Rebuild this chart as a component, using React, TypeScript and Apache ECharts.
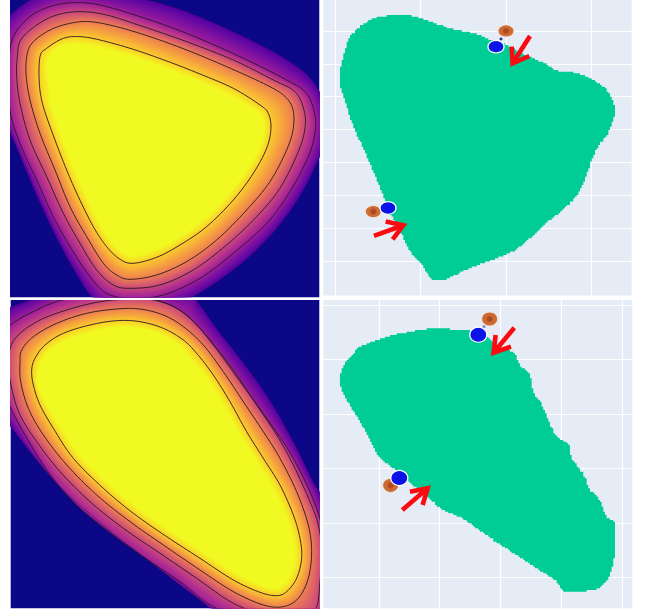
import React, { useEffect, useRef } from "react";
import * as echarts from "echarts";

type P = number[];

// Density panel, top: contours from the outer edge to the yellow core
const topEdge: P[] = [[-40,230],[-30,120],[60,20],[160,-25],[300,-25],[500,15],[700,95],[870,185],[950,260],[985,370],[955,480],[880,620],[770,750],[630,860],[500,925],[390,940],[300,920],[210,790],[120,610],[30,400],[-30,300]];
const topLevel1: P[] = [[26,200],[40,110],[90,50],[150,20],[220,8],[300,15],[420,50],[560,100],[720,170],[860,240],[920,280],[945,345],[945,400],[925,470],[870,575],[800,670],[700,760],[600,835],[490,885],[390,895],[320,880],[270,830],[210,740],[160,650],[110,540],[60,430],[30,330]];
const topLevel2: P[] = [[50,230],[52,170],[62,120],[110,75],[170,45],[240,35],[320,45],[430,80],[560,125],[700,180],[820,240],[885,275],[912,330],[915,385],[895,455],[840,565],[770,650],[680,735],[580,810],[480,855],[390,865],[340,855],[290,810],[240,730],[190,640],[140,530],[90,420],[60,310]];
const topLevel3: P[] = [[78,220],[82,160],[100,125],[150,90],[210,70],[270,65],[350,80],[450,110],[560,150],[680,200],[790,250],[850,285],[878,325],[880,385],[860,450],[810,545],[740,630],[650,720],[560,785],[470,825],[390,838],[350,825],[310,790],[260,710],[210,620],[165,510],[120,400],[90,300]];
const topLevel4: P[] = [[118,250],[120,170],[140,145],[190,115],[240,110],[300,120],[400,148],[500,183],[600,222],[700,265],[780,315],[805,340],[813,385],[800,445],[760,520],[700,600],[620,680],[540,735],[470,772],[400,790],[360,778],[320,740],[280,680],[235,590],[200,510],[165,420],[130,320]];
const topCore: P[] = [[150,270],[140,190],[175,140],[240,132],[300,142],[400,170],[500,205],[595,243],[690,285],[765,330],[785,350],[792,385],[780,440],[740,510],[682,588],[605,665],[525,720],[460,752],[400,768],[372,760],[335,725],[298,668],[255,580],[220,500],[185,410],[150,310]];

// Density panel, bottom
const lowEdge: P[] = [[-20,70],[100,10],[200,-20],[560,-20],[590,15],[650,100],[720,190],[800,300],[870,420],[930,540],[990,680],[1010,1000],[700,970],[580,900],[450,800],[320,700],[170,565],[32,395],[-20,300],[-40,180]];
const lowLevel1: P[] = [[10,115],[120,40],[230,5],[350,-5],[470,15],[560,60],[640,150],[720,260],[800,370],[880,490],[950,640],[975,760],[985,985],[780,985],[640,935],[540,860],[430,785],[320,705],[220,620],[130,510],[32,340],[8,250]];
const lowLevel2: P[] = [[25,210],[32,155],[60,115],[120,75],[200,45],[290,22],[380,12],[460,15],[530,40],[590,90],[650,160],[710,240],[770,330],[830,420],[880,510],[930,620],[955,690],[965,770],[960,860],[945,945],[880,960],[800,960],[700,925],[590,850],[480,775],[370,700],[270,620],[180,530],[110,440],[60,360],[35,280]];
const lowLevel3: P[] = [[62,260],[60,200],[65,165],[100,125],[170,85],[260,55],[350,42],[420,42],[490,60],[550,95],[610,150],[670,230],[730,320],[790,410],[840,490],[890,590],[925,690],[935,770],[925,850],[895,910],[850,935],[790,930],[700,890],[600,825],[490,750],[390,680],[290,600],[200,510],[130,420],[85,340]];
const lowLevel4: P[] = [[100,270],[95,225],[105,190],[135,150],[190,115],[270,90],[350,77],[420,80],[490,100],[550,135],[590,175],[640,240],[690,320],[740,410],[790,490],[840,570],[880,660],[900,730],[905,790],[890,850],[860,890],[830,902],[780,892],[700,855],[600,790],[500,725],[400,655],[310,580],[220,490],[160,400],[120,330]];
const lowCore: P[] = [[115,275],[115,230],[125,200],[150,165],[200,135],[278,110],[352,97],[418,100],[482,118],[536,150],[572,190],[622,252],[672,332],[722,422],[772,502],[820,580],[860,668],[880,735],[885,790],[872,840],[850,870],[828,882],[785,872],[708,836],[610,772],[512,708],[412,638],[324,565],[236,476],[178,390],[135,320]];

const levelColors = ["#5502a4", "#a11f9b", "#cc4a7a", "#ef8150", "#fccf2a", "#f0f921"];

// Region outlines in the scatter panels
const topRegion: P[] = [[240,44],[275,48],[330,65],[400,88],[470,103],[505,118],[560,135],[600,160],[660,185],[715,213],[760,218],[810,235],[850,262],[875,295],[885,325],[883,350],[865,400],[835,440],[812,490],[795,540],[770,590],[730,630],[680,670],[620,725],[580,755],[520,780],[450,805],[380,838],[340,838],[310,800],[280,765],[250,710],[225,665],[200,610],[180,560],[150,490],[120,420],[90,350],[75,300],[62,260],[62,200],[75,150],[90,110],[125,75],[170,52]];
const lowRegion: P[] = [[370,98],[400,105],[450,108],[500,125],[540,160],[580,172],[600,210],[628,240],[640,290],[665,330],[690,390],[715,430],[748,450],[755,490],[790,540],[810,585],[835,610],[860,665],[885,685],[885,770],[875,825],[855,865],[820,885],[735,888],[712,860],[660,825],[600,785],[545,750],[490,712],[430,670],[370,645],[330,610],[280,570],[230,525],[175,480],[150,430],[115,370],[90,330],[65,280],[60,245],[75,205],[100,175],[120,155],[170,135],[220,120],[300,105]];

const topXTicks = [47, 302, 558, 815];
const topYTicks = [93, 192, 290, 388, 488, 586, 685, 783];
const lowXTicks = [177, 358, 542, 725, 907];
const lowYTicks = [30, 193, 358, 521, 684, 847];

const topOrange: P[] = [[558,93],[160,635]];
const topBlue: P[] = [[528,140],[204,624]];
const topDots: P[] = [[543,117]];
const lowOrange: P[] = [[509,72],[212,571]];
const lowBlue: P[] = [[475,119],[238,549]];
const lowDots: P[] = [[492,95]];

// tail, tip, barb, barb
const topArrows: P[][] = [
  [[630,108],[578,190],[575,140],[628,168]],
  [[162,708],[250,676],[197,665],[218,718]],
];
const lowArrows: P[][] = [
  [[583,98],[521,173],[527,120],[573,155]],
  [[247,645],[323,580],[270,590],[308,630]],
];

function smooth(ring: P[], n = 8): P[] {
  const out: P[] = [];
  const L = ring.length;
  for (let i = 0; i < L; i++) {
    const a = ring[(i - 1 + L) % L], b = ring[i], c = ring[(i + 1) % L], d = ring[(i + 2) % L];
    for (let k = 0; k < n; k++) {
      const t = k / n, t2 = t * t, t3 = t2 * t;
      out.push([0, 1].map((j) =>
        0.5 * (2 * b[j] + (c[j] - a[j]) * t + (2 * a[j] - 5 * b[j] + 4 * c[j] - d[j]) * t2 + (3 * b[j] - a[j] - 3 * c[j] + d[j]) * t3)));
    }
  }
  return out;
}

const ANGLES = 240;
function radial(ring: P[], cx: number, cy: number): number[] {
  const pts = smooth(ring, 10)
    .map((p) => [Math.atan2(p[1] - cy, p[0] - cx), Math.hypot(p[0] - cx, p[1] - cy)])
    .sort((a, b) => a[0] - b[0]);
  const res: number[] = [];
  for (let i = 0; i < ANGLES; i++) {
    const th = -Math.PI + (2 * Math.PI * i) / ANGLES;
    let j = pts.findIndex((p) => p[0] >= th);
    if (j < 0) j = 0;
    const b = pts[j], a = pts[(j - 1 + pts.length) % pts.length];
    let span = b[0] - a[0]; if (span <= 0) span += 2 * Math.PI;
    let off = th - a[0]; if (off < 0) off += 2 * Math.PI;
    res.push(a[1] + (b[1] - a[1]) * (off / span));
  }
  return res;
}

function hex(c: string) { return [1, 3, 5].map((i) => parseInt(c.slice(i, i + 2), 16)); }
function mix(a: string, b: string, t: number) {
  const x = hex(a), y = hex(b);
  return `rgb(${x.map((v, i) => Math.round(v + (y[i] - v) * t)).join(",")})`;
}

function densitySeries(idx: number, rings: P[][], cx: number, cy: number) {
  const radii = rings.map((r) => radial(r, cx, cy));
  const lines = rings.slice(0, 5).map((r) => smooth(r));
  return {
    type: "custom", xAxisIndex: idx, yAxisIndex: idx, clip: true, silent: true,
    data: [[0, 0]],
    renderItem: (_: any, api: any) => {
      const children: any[] = [];
      const STEPS = 10;
      for (let b = 0; b < radii.length - 1; b++) {
        for (let s = 0; s < STEPS; s++) {
          const t = s / STEPS;
          const points = radii[b].map((r0, i) => {
            const r = r0 + (radii[b + 1][i] - r0) * t;
            const th = -Math.PI + (2 * Math.PI * i) / ANGLES;
            return api.coord([cx + r * Math.cos(th), cy + r * Math.sin(th)]);
          });
          children.push({ type: "polygon", shape: { points }, style: { fill: mix(levelColors[b], levelColors[b + 1], t), stroke: null } });
        }
      }
      const last = radii[radii.length - 1].map((r, i) => {
        const th = -Math.PI + (2 * Math.PI * i) / ANGLES;
        return api.coord([cx + r * Math.cos(th), cy + r * Math.sin(th)]);
      });
      children.push({ type: "polygon", shape: { points: last }, style: { fill: levelColors[5], stroke: null } });
      lines.forEach((ln, k) => {
        children.push({
          type: "polygon", shape: { points: ln.map((p) => api.coord(p)) },
          style: { fill: "none", stroke: k === 0 ? "rgba(30,10,80,0.45)" : "rgba(40,25,35,0.9)", lineWidth: 1 },
        });
      });
      return { type: "group", children };
    },
  };
}

function stairs(ring: P[], cell = 5): P[] {
  const out: P[] = [];
  smooth(ring, 12).forEach((p) => {
    const x = Math.round(p[0] / cell) * cell, y = Math.round(p[1] / cell) * cell;
    const l = out[out.length - 1];
    if (!l) { out.push([x, y]); return; }
    if (l[0] === x && l[1] === y) return;
    if (l[0] !== x && l[1] !== y) out.push([x, l[1]]);
    out.push([x, y]);
  });
  return out;
}

function regionSeries(idx: number, ring: P[]) {
  const pts = stairs(ring);
  return {
    type: "custom", xAxisIndex: idx, yAxisIndex: idx, silent: true, z: 2,
    data: [[0, 0]],
    renderItem: (_: any, api: any) => ({
      type: "polygon", shape: { points: pts.map((p) => api.coord(p)) },
      style: { fill: "#00cc96", stroke: null },
    }),
  };
}

function arrowSeries(idx: number, arrows: P[][]) {
  return {
    type: "custom", xAxisIndex: idx, yAxisIndex: idx, silent: true, z: 6,
    data: arrows.map((_, i) => [i, 0]),
    renderItem: (_: any, api: any) => {
      const a = arrows[api.value(0)];
      const style = { fill: "none", stroke: "#fb0a10", lineWidth: 4.6, lineJoin: "miter", miterLimit: 8 };
      return {
        type: "group",
        children: [
          { type: "polyline", shape: { points: [api.coord(a[0]), api.coord(a[1])] }, style },
          { type: "polyline", shape: { points: [api.coord(a[2]), api.coord(a[1]), api.coord(a[3])] }, style },
        ],
      };
    },
  };
}

function marks(idx: number, data: P[], size: number[], color: string, border: string, bw: number, z: number) {
  return {
    type: "scatter", xAxisIndex: idx, yAxisIndex: idx, data, symbol: "circle", symbolSize: size, silent: true, z,
    itemStyle: { color, borderColor: border, borderWidth: bw, opacity: 1 },
  };
}

function axis(min: number, max: number, ticks: number[] | null, gridIndex: number, inverse: boolean) {
  return {
    type: "value", gridIndex, min, max, inverse, show: true, scale: true,
    axisLine: { show: false }, axisLabel: { show: false },
    axisTick: { show: false, ...(ticks ? { customValues: ticks } : {}) },
    splitLine: { show: !!ticks, lineStyle: { color: "#ffffff", width: 1.2 } },
  };
}

export default function App() {
  const ref = useRef<HTMLDivElement>(null);
  useEffect(() => {
    const chart = echarts.init(ref.current!, null, { renderer: "svg" });
    chart.setOption({
      animation: false,
      backgroundColor: "#ffffff",
      grid: [
        { left: 10, top: 0, width: 309.3, height: 297.3, show: true, backgroundColor: "#0c0786", borderWidth: 0 },
        { left: 10.7, top: 300, width: 308.6, height: 308.3, show: true, backgroundColor: "#0c0786", borderWidth: 0 },
        { left: 323.3, top: 0, width: 308.4, height: 295.6, show: true, backgroundColor: "#e5ecf6", borderWidth: 0 },
        { left: 323.3, top: 300, width: 309, height: 308.3, show: true, backgroundColor: "#e5ecf6", borderWidth: 0 },
      ],
      xAxis: [axis(30, 958, null, 0, false), axis(32, 958, null, 1, false), axis(10, 935, topXTicks, 2, false), axis(10, 937, lowXTicks, 3, false)],
      yAxis: [axis(0, 892, null, 0, true), axis(15, 940, null, 1, true), axis(0, 887, topYTicks, 2, true), axis(15, 940, lowYTicks, 3, true)],
      series: [
        densitySeries(0, [topEdge, topLevel1, topLevel2, topLevel3, topLevel4, topCore], 430, 430),
        densitySeries(1, [lowEdge, lowLevel1, lowLevel2, lowLevel3, lowLevel4, lowCore], 480, 480),
        regionSeries(2, topRegion),
        regionSeries(3, lowRegion),
        marks(2, topOrange, [16, 12], "#cc6a35", "#f3e3da", 1, 3),
        marks(2, topOrange, [6, 6], "#b04a1e", "transparent", 0, 3),
        marks(2, topDots, [3, 3], "#2a3a80", "transparent", 0, 3),
        marks(2, topBlue, [16, 12.5], "#0a14e6", "#ffffff", 1.2, 4),
        marks(3, lowOrange, [16, 14], "#cc6a35", "#f3e3da", 1, 3),
        marks(3, lowOrange, [6, 6], "#b04a1e", "transparent", 0, 3),
        marks(3, lowDots, [3, 3], "#8090c0", "transparent", 0, 3),
        marks(3, lowBlue, [17, 15], "#0a14e6", "#ffffff", 1.2, 4),
        arrowSeries(2, topArrows),
        arrowSeries(3, lowArrows),
      ],
    });
    return () => chart.dispose();
  }, []);
  return <div ref={ref} style={{ position: "absolute", left: 0, top: 0, width: 649, height: 612 }} />;
}
